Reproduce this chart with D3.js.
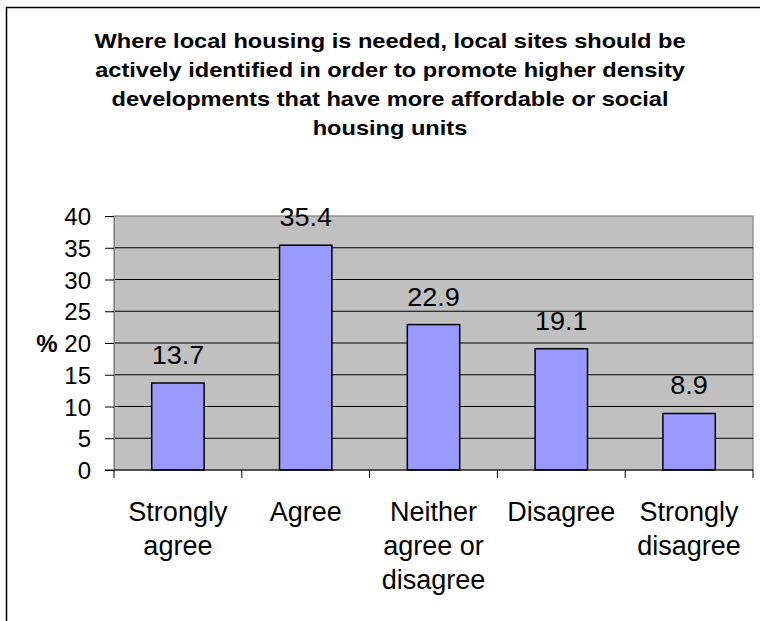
<!DOCTYPE html>
<html>
<head>
<meta charset="utf-8">
<script src="https://cdn.jsdelivr.net/npm/d3@7"></script>
<style>
  html, body { margin: 0; padding: 0; background: #fff; }
  svg { display: block; font-family: "Liberation Sans", Arial, sans-serif; }
</style>
</head>
<body>
<svg id="chart" width="760" height="621"></svg>
<script>
// Survey responses (percent of respondents)
const categories = ["Strongly agree", "Agree", "Neither agree or disagree", "Disagree", "Strongly disagree"];
const categoryLines = [["Strongly", "agree"], ["Agree"], ["Neither", "agree or", "disagree"], ["Disagree"], ["Strongly", "disagree"]];
const values = [13.7, 35.4, 22.9, 19.1, 8.9];
const yTicks = [0, 5, 10, 15, 20, 25, 30, 35, 40];
const titleLines = [
  "Where local housing is needed, local sites should be",
  "actively identified in order to promote higher density",
  "developments that have more affordable or social",
  "housing units"
];

const svg = d3.select("#chart");

// Outer chart frame (open on the right and bottom)
svg.append("rect")
  .attr("x", 6.5).attr("y", 7.5)
  .attr("width", 800).attr("height", 700)
  .attr("fill", "#fff").attr("stroke", "#000").attr("stroke-width", 1.5);

const plot = { left: 114, right: 753, top: 216, bottom: 470 };

const y = d3.scaleLinear().domain([0, 40]).range([plot.bottom, plot.top]);
const x = d3.scaleBand().domain(categories)
  .range([plot.left, plot.right])
  .paddingInner(0.59).paddingOuter(0.295);

// Title: wide bold lines, centred
const titleStretch = 1.18;
svg.append("g").selectAll("text")
  .data(titleLines)
  .join("text")
  .attr("transform", (d, i) => `translate(390,${48 + i * 29}) scale(${titleStretch},1)`)
  .attr("text-anchor", "middle")
  .attr("font-weight", "bold")
  .attr("font-size", 20)
  .attr("fill", "#000")
  .text(d => d);

// Plot area background
svg.append("rect")
  .attr("x", plot.left).attr("y", plot.top)
  .attr("width", plot.right - plot.left).attr("height", plot.bottom - plot.top)
  .attr("fill", "#c0c0c0").attr("stroke", "#808080").attr("stroke-width", 1.2);

// Horizontal gridlines
svg.append("g").selectAll("line")
  .data(yTicks.filter(d => d > 0 && d < 40))
  .join("line")
  .attr("x1", plot.left).attr("x2", plot.right)
  .attr("y1", d => y(d)).attr("y2", d => y(d))
  .attr("stroke", "#000").attr("stroke-width", 1);

// Bars
svg.append("g").selectAll("rect")
  .data(values)
  .join("rect")
  .attr("x", (d, i) => x(categories[i]))
  .attr("y", d => y(d))
  .attr("width", x.bandwidth())
  .attr("height", d => y(0) - y(d))
  .attr("fill", "#9999ff")
  .attr("stroke", "#000").attr("stroke-width", 1.5);

// Value labels above bars
svg.append("g").selectAll("text")
  .data(values)
  .join("text")
  .attr("transform", (d, i) => `translate(${x(categories[i]) + x.bandwidth() / 2},${y(d) - 19}) scale(1.08,1)`)
  .attr("text-anchor", "middle")
  .attr("font-size", 25)
  .attr("fill", "#000")
  .text(d => d.toFixed(1));

// Y axis
const yAxis = svg.append("g")
  .attr("transform", `translate(${plot.left},0)`)
  .call(d3.axisLeft(y).tickValues(yTicks).tickSize(9).tickPadding(14));
yAxis.select(".domain").attr("stroke", "#808080");
yAxis.selectAll(".tick line").attr("stroke", "#000");
yAxis.selectAll(".tick text")
  .attr("font-size", 24).attr("font-family", "Liberation Sans, Arial, sans-serif")
  .attr("fill", "#000").attr("dy", "0.36em");

// Y axis unit label
svg.append("text")
  .attr("x", 47).attr("y", y(20) + 8.6)
  .attr("text-anchor", "middle")
  .attr("font-weight", "bold").attr("font-size", 24)
  .text("%");

// X axis baseline and ticks at category boundaries
const step = x.step();
const bounds = d3.range(categories.length + 1).map(i => plot.left + i * step);
svg.append("line")
  .attr("x1", plot.left - 9).attr("x2", plot.right)
  .attr("y1", y(0)).attr("y2", y(0))
  .attr("stroke", "#000").attr("stroke-width", 1.2);
svg.append("g").selectAll("line")
  .data(bounds)
  .join("line")
  .attr("x1", d => d).attr("x2", d => d)
  .attr("y1", y(0)).attr("y2", y(0) + 8)
  .attr("stroke", "#000").attr("stroke-width", 1);

// Category labels (wrapped)
const cat = svg.append("g").selectAll("text")
  .data(categoryLines)
  .join("text")
  .attr("text-anchor", "middle")
  .attr("font-size", 27)
  .attr("fill", "#000");
cat.each(function (lines, i) {
  const cx = x(categories[i]) + x.bandwidth() / 2;
  lines.forEach((t, j) => {
    d3.select(this).append("tspan").attr("x", cx).attr("y", 521 + j * 34).text(t);
  });
});
</script>
</body>
</html>
